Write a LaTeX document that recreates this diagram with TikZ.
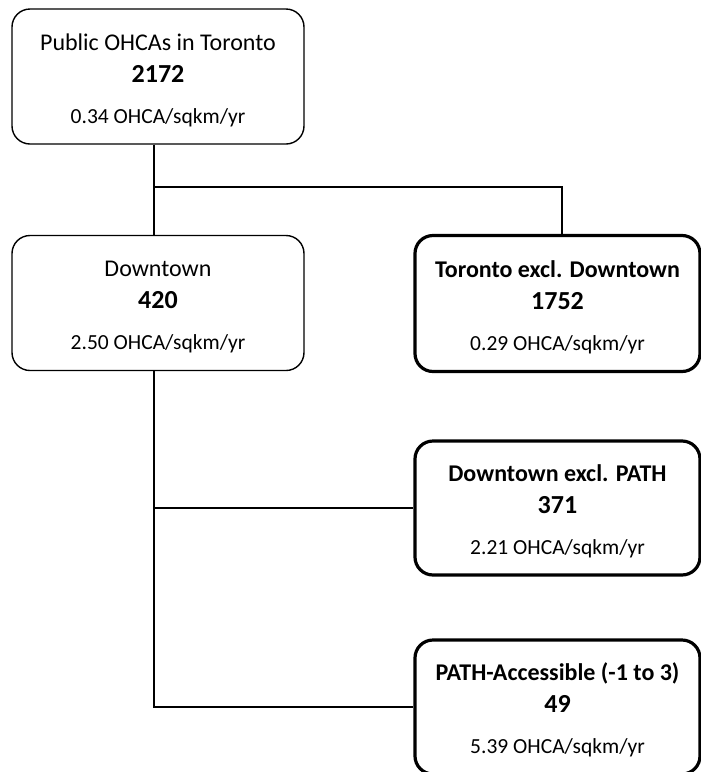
\documentclass[tikz,border=0pt]{standalone}
\usepackage{fontspec}
\setmainfont{Carlito}
\newcommand\ohcacount[1]{\\{\fontsize{26}{32}\selectfont\bfseries #1}}
\newcommand\ohcarate[1]{\\[9pt]{\fontsize{21.5}{32}\selectfont #1}}
\begin{document}
\begin{tikzpicture}[x=1pt,y=-1pt,
  box/.style={draw, rounded corners=18pt, inner sep=0pt, align=center,
    font=\fontsize{24}{32}\selectfont, line width=1.4pt},
  thinbox/.style={box, minimum width=292pt, minimum height=135pt},
  boldbox/.style={box, line width=3.2pt, minimum width=285pt},
  link/.style={line width=1.6pt}]
  \fill[white] (0,0) rectangle (701,772);
  \useasboundingbox (0,0) rectangle (701,772);

  % left column
  \node[thinbox] (top) at (158,76.5)
    {\rule{0pt}{24pt}Public OHCAs in Toronto\ohcacount{2172}\ohcarate{0.34 OHCA/sqkm/yr}};
  \node[thinbox] (down) at (158,303)
    {\rule{0pt}{24pt}Downtown\ohcacount{420}\ohcarate{2.50 OHCA/sqkm/yr}};

  % right column
  \node[boldbox, minimum height=136pt] (excl) at (557.5,303.5)
    {\rule{0pt}{24pt}\textbf{Toronto excl. Downtown}\ohcacount{1752}\ohcarate{0.29 OHCA/sqkm/yr}};
  \node[boldbox, minimum height=134pt] (dexcl) at (557.5,508)
    {\rule{0pt}{24pt}\textbf{Downtown excl. PATH}\ohcacount{371}\ohcarate{2.21 OHCA/sqkm/yr}};
  \node[boldbox, minimum height=134pt] (path) at (557.5,707)
    {\rule{0pt}{24pt}\textbf{PATH-Accessible (-1 to 3)}\ohcacount{49}\ohcarate{5.39 OHCA/sqkm/yr}};

  % connectors
  \coordinate (j1) at (154,187);
  \draw[link] ([xshift=-4pt]top.south) -- ([xshift=-4pt]down.north);
  \draw[link] (j1) -| ([xshift=4.5pt]excl.north);
  \coordinate (stem) at ([xshift=-4pt]down.south);
  \draw[link] (stem) |- (path.west);
  \draw[link] (stem |- dexcl.west) -- (dexcl.west);
\end{tikzpicture}
\end{document}
